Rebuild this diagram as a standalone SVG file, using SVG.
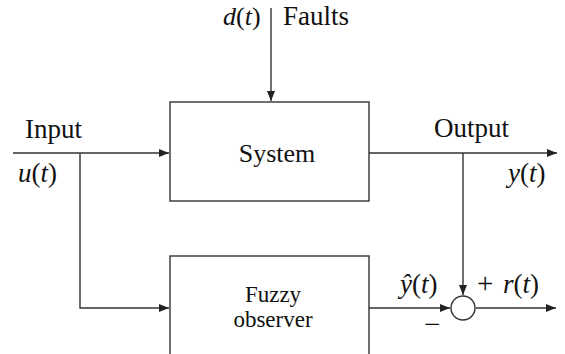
<svg xmlns="http://www.w3.org/2000/svg" width="565" height="354" viewBox="0 0 565 354">
<style>
svg text, svg tspan{font-family:'Liberation Serif',serif !important}
.box{fill:#fff;stroke:#333;stroke-width:1.4}
.ln{fill:none;stroke:#333;stroke-width:1.4}
.i{font-style:italic}
</style>
<defs>
<marker id="ah" viewBox="0 0 10 8" refX="10" refY="4" markerWidth="10" markerHeight="8" markerUnits="userSpaceOnUse" orient="auto">
<path d="M0,0 L10,4 L0,8 Z" fill="#222"/>
</marker>
</defs>
<rect width="565" height="354" fill="#fff"/>
<g id="connectors">
<line class="ln" x1="271" y1="8" x2="271" y2="101" marker-end="url(#ah)"/>
<line class="ln" x1="13" y1="153" x2="169" y2="153" marker-end="url(#ah)"/>
<polyline class="ln" points="80,153 80,308 169,308" marker-end="url(#ah)"/>
<line class="ln" x1="369" y1="153" x2="557" y2="153" marker-end="url(#ah)"/>
<line class="ln" x1="463" y1="153" x2="463" y2="295" marker-end="url(#ah)"/>
<line class="ln" x1="369" y1="308" x2="450" y2="308" marker-end="url(#ah)"/>
<line class="ln" x1="476" y1="308" x2="556" y2="308" marker-end="url(#ah)"/>
</g>
<g id="system">
<rect class="box" x="170" y="102" width="199" height="99"/>
<text x="277" y="162" text-anchor="middle" font-family="Liberation Serif" font-size="26" fill="#111" style="font-family:'Liberation Serif',serif !important">System</text>
</g>
<g id="observer">
<rect class="box" x="170" y="256" width="199" height="110"/>
<text x="273" y="302" text-anchor="middle" font-family="Liberation Serif" font-size="23" fill="#111" style="font-family:'Liberation Serif',serif !important">Fuzzy</text>
<text x="273" y="327" text-anchor="middle" font-family="Liberation Serif" font-size="23" fill="#111" style="font-family:'Liberation Serif',serif !important">observer</text>
</g>
<g id="sum">
<circle cx="463" cy="308" r="12" fill="#fff" stroke="#333" stroke-width="1.4"/>
</g>
<g id="labels" font-family="Liberation Serif" fill="#111">
<text x="223" y="25" font-family="Liberation Serif" font-size="26" style="font-family:'Liberation Serif',serif !important"><tspan class="i">d</tspan>(<tspan class="i">t</tspan>)</text>
<text x="283" y="25" font-family="Liberation Serif" font-size="27" style="font-family:'Liberation Serif',serif !important">Faults</text>
<text x="25" y="138" font-family="Liberation Serif" font-size="27" style="font-family:'Liberation Serif',serif !important">Input</text>
<text x="18" y="182" font-family="Liberation Serif" font-size="27" style="font-family:'Liberation Serif',serif !important"><tspan class="i">u</tspan>(<tspan class="i">t</tspan>)</text>
<text x="434" y="137" font-family="Liberation Serif" font-size="27" style="font-family:'Liberation Serif',serif !important">Output</text>
<text x="508" y="182" font-family="Liberation Serif" font-size="27" style="font-family:'Liberation Serif',serif !important"><tspan class="i">y</tspan>(<tspan class="i">t</tspan>)</text>
<text x="400" y="293" font-family="Liberation Serif" font-size="27" style="font-family:'Liberation Serif',serif !important"><tspan class="i">ŷ</tspan>(<tspan class="i">t</tspan>)</text>
<text x="477" y="293" font-family="Liberation Serif" font-size="29" style="font-family:'Liberation Serif',serif !important">+</text>
<text x="503" y="293" font-family="Liberation Serif" font-size="27" style="font-family:'Liberation Serif',serif !important"><tspan class="i">r</tspan>(<tspan class="i">t</tspan>)</text>
<text x="424" y="334" font-family="Liberation Serif" font-size="29" style="font-family:'Liberation Serif',serif !important">−</text>
</g>
</svg>
